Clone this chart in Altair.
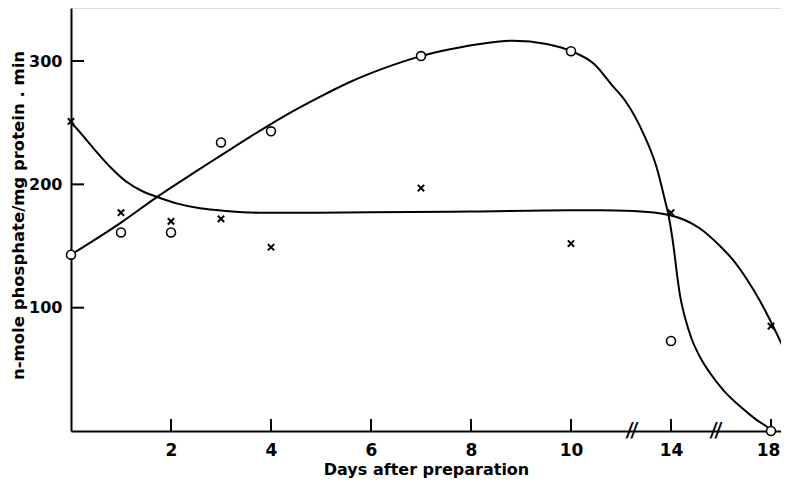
import altair as alt
import pandas as pd

# ---- data ----
point_days = [0, 1, 2, 3, 4, 7, 10, 14, 18]
circle_vals = [143, 161, 161, 234, 243, 304, 308, 73, 0]
cross_vals = [251, 177, 170, 172, 149, 197, 152, 177, 85]

# hand-drawn fitted curves (days, value)
curve_a_days = [0, 1, 1.71, 2.5, 3, 3.58, 4.25, 4.91, 5.58, 6.25, 7, 7.58, 8.25, 8.85, 9.51,
                10.06, 10.9, 11.7, 12.16, 12.9, 13.42, 13.76, 13.9, 14.1, 14.26, 14.36,
                14.56, 14.82, 15.16, 15.56, 16.1, 16.76, 17.42, 17.9, 18]
curve_a_vals = [143, 169, 189.5, 210.5, 223.5, 238.5, 255, 269.5, 283, 294, 304, 309.5, 314.3, 316.5, 313.8,
                307.6, 298, 279, 268, 241, 214, 187, 175, 150, 124, 110,
                92, 75, 60, 47, 33, 20, 9, 2.2, 0]

curve_b_days = [0, 0.08, 0.45, 0.78, 1.11, 1.45, 1.71, 2.11, 2.58, 3.11, 3.78, 4.58, 6, 8, 10,
                11.16, 12.5, 13.96, 15.16, 15.96, 16.48, 17.04, 17.56, 17.96, 18.44]
curve_b_vals = [250, 246.7, 229.2, 214.3, 202.1, 194, 190, 184.6, 180.6, 178.4, 177, 177, 177.3, 178, 179,
                179, 178.4, 175, 164.2, 150, 138.7, 122.8, 105.4, 90, 70]

x_tick_vals = [2, 4, 6, 8, 10, 14, 18]
y_tick_vals = [100, 200, 300]
break_days = [12.44, 15.8]

W, H = 710, 423
FONT = "DejaVu Sans"

xscale = alt.Scale(domain=[0, 10, 18.4], range=[0, 500, W], nice=False, zero=False)
yscale = alt.Scale(domain=[0, 343], nice=False, zero=True)

pts = pd.DataFrame({"day": point_days, "circle": circle_vals, "cross": cross_vals})
ca = pd.DataFrame({"day": curve_a_days, "v": curve_a_vals})
cb = pd.DataFrame({"day": curve_b_days, "v": curve_b_vals})
xt = pd.DataFrame({"t": x_tick_vals})
yt = pd.DataFrame({"t": y_tick_vals})
br = pd.DataFrame({"day": break_days, "v": [0] * len(break_days), "s": ["//"] * len(break_days)})

x_axis = alt.Axis(values=x_tick_vals, ticks=False, grid=False, domainColor="black",
                  domainWidth=2, labelFont=FONT, labelFontSize=17, labelFontWeight="bold",
                  labelColor="black", labelPadding=11, labelFlush=False,
                  labelOffset={"condition": {"test": "datum.value >= 18", "value": -3}, "value": 0},
                  title="Days after preparation", titleFont=FONT, titleFontSize=16,
                  titleFontWeight="bold", titleColor="black",
                  titleY=43, titleBaseline="alphabetic")
y_axis = alt.Axis(values=y_tick_vals, ticks=False, grid=False, domainColor="black",
                  domainWidth=2, labelFont=FONT, labelFontSize=16, labelFontWeight="bold",
                  labelColor="black", labelPadding=9,
                  title="n-mole phosphate/mg protein . min", titleFont=FONT, titleFontSize=16.5,
                  titleFontWeight="bold", titleColor="black",
                  titleX=-48, titleY=207, titleBaseline="alphabetic", titleAlign="center",
                  titleAngle=270)

base_axes = alt.Chart(pts).mark_point(opacity=0).encode(
    x=alt.X("day:Q", scale=xscale, axis=x_axis),
    y=alt.Y("circle:Q", scale=yscale, axis=y_axis),
)

line_a = alt.Chart(ca).mark_line(interpolate="monotone", color="black", strokeWidth=2, clip=True).encode(
    x=alt.X("day:Q", scale=xscale), y=alt.Y("v:Q", scale=yscale))
line_b = alt.Chart(cb).mark_line(interpolate="monotone", color="black", strokeWidth=2, clip=True).encode(
    x=alt.X("day:Q", scale=xscale), y=alt.Y("v:Q", scale=yscale))

circles = alt.Chart(pts).mark_point(shape="circle", filled=True, fill="white", stroke="black",
                                    strokeWidth=1.6, size=80, opacity=1).encode(
    x=alt.X("day:Q", scale=xscale), y=alt.Y("circle:Q", scale=yscale))
crosses = alt.Chart(pts).mark_point(shape="M-1,-1L1,1M-1,1L1,-1", filled=False, stroke="black",
                                    strokeWidth=2, size=40, opacity=1).encode(
    x=alt.X("day:Q", scale=xscale), y=alt.Y("cross:Q", scale=yscale))

xticks = alt.Chart(xt).mark_rule(color="black", strokeWidth=2).encode(
    x=alt.X("t:Q", scale=xscale), y=alt.value(H), y2=alt.value(H - 12))
yticks = alt.Chart(yt).mark_rule(color="black", strokeWidth=2).encode(
    y=alt.Y("t:Q", scale=yscale), x=alt.value(0), x2=alt.value(13))

breaks = alt.Chart(br).mark_text(font="Lato", fontSize=20, fontWeight="bold", color="black",
                                 baseline="middle", align="center", dy=1).encode(
    x=alt.X("day:Q", scale=xscale), y=alt.Y("v:Q", scale=yscale), text="s:N")

chart = alt.layer(base_axes, line_a, line_b, xticks, yticks, breaks, circles, crosses).properties(
    width=W, height=H,
    autosize=alt.AutoSizeParams(type="none"),
    padding={"left": 63, "top": 0, "right": 0, "bottom": 47},
).configure_view(stroke=None).configure(background="white")

chart.save("out.html", embed_options={"renderer": "svg", "actions": False})
